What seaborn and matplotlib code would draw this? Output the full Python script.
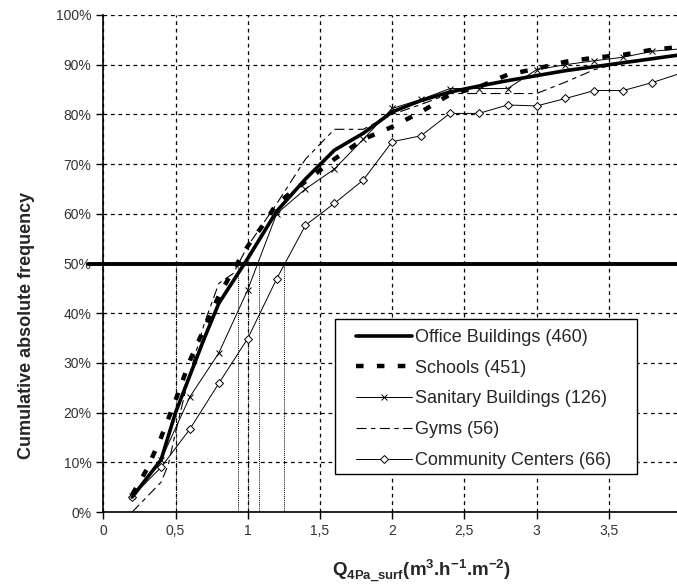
import numpy as np
import pandas as pd
import seaborn as sns
import matplotlib
matplotlib.use('Agg')
import matplotlib.pyplot as plt
from matplotlib.ticker import FixedLocator
from matplotlib.patches import Rectangle

sns.set_style('white')
plt.rcParams['font.family'] = ['Liberation Sans', 'DejaVu Sans']
plt.rcParams['mathtext.fontset'] = 'custom'
plt.rcParams['mathtext.rm'] = 'Liberation Sans'
plt.rcParams['mathtext.bf'] = 'Liberation Sans:bold'

# Data, y in %

x_office = [0.2, 0.4, 0.5, 0.6, 0.7, 0.8, 0.9, 1.0, 1.2, 1.4, 1.6, 1.8, 2.0, 2.2, 2.4, 2.6, 2.8, 3.0, 3.2, 3.4, 3.6, 3.8, 4.0]
office = [3, 10.5, 20, 27.5, 35, 42, 46.5, 51, 60.5, 67, 72.8, 76.2, 80.5, 82.8, 84.5, 85.7, 86.8, 87.8, 88.8, 89.6, 90.4, 91.2, 92.0]

x_schools = [0.2, 0.3, 0.4, 0.5, 0.6, 0.7, 0.8, 0.9, 1.0, 1.1, 1.2, 1.4, 1.6, 1.8, 2.0, 2.2, 2.4, 2.6, 2.8, 3.0, 3.2, 3.4, 3.6, 3.8, 4.0]
schools = [3.5, 8.5, 15, 22.5, 30.5, 37, 43.5, 48.7, 53.5, 57.5, 62, 66.5, 71, 75, 77.5, 80.5, 84, 85.5, 88, 89.2, 90.6, 91.4, 92, 93, 93.6]

x_step = [0.2, 0.4, 0.6, 0.8, 1.0, 1.2, 1.4, 1.6, 1.8, 2.0, 2.2, 2.4, 2.6, 2.8, 3.0, 3.2, 3.4, 3.6, 3.8, 4.0]
sanitary = [3.2, 10.5, 23.2, 32.0, 44.7, 60.0, 65.0, 69.0, 75.0, 81.2, 83.0, 85.2, 85.2, 85.2, 89.0, 90.0, 90.8, 91.5, 92.7, 93.2]
community = [3.1, 9.0, 16.7, 25.9, 34.9, 46.9, 57.7, 62.1, 66.8, 74.5, 75.7, 80.2, 80.2, 81.9, 81.7, 83.2, 84.8, 84.8, 86.4, 88.3]

x_gyms = [0.2, 0.4, 0.45, 0.5, 0.6, 0.7, 0.8, 0.9, 1.0, 1.2, 1.4, 1.6, 1.8, 2.0, 2.2, 2.4, 2.6, 2.8, 3.0, 3.2, 3.4, 3.6, 3.8, 4.0]
gyms = [0, 6, 9.5, 16, 28, 38, 46, 48, 53.5, 62, 71, 77, 77, 80, 82, 84.2, 84.2, 84.2, 84.2, 86.5, 89, 90.5, 91.3, 92.2]

medians = [0.5, 0.93, 1.0, 1.08, 1.25]

x_ticks = [0, 0.5, 1, 1.5, 2, 2.5, 3, 3.5, 4]
x_ticklabels = ['0', '0,5', '1', '1,5', '2', '2,5', '3', '3,5', '4']
y_ticks = [0, 10, 20, 30, 40, 50, 60, 70, 80, 90, 100]
y_ticklabels = ['%d%%' % v for v in y_ticks]

# Plot

W, H = 677, 585
x0, x1, y_top, y_bot = 103.3, 681, 15, 512
aw, ah = x1 - x0, y_bot - y_top

fig = plt.figure(figsize=(W / 100, H / 100), dpi=100)
ax = fig.add_axes([x0 / W, 1 - y_bot / H, aw / W, ah / H])

ax.grid(True, color='black', linestyle=(0, (3, 3)), linewidth=0.9)
ax.set_axisbelow(True)

for m in medians:
    ax.plot([m, m], [0, 50], color='black', linestyle=(0, (1, 1)), linewidth=0.7, zorder=2)

ax.plot([-0.106, 4.2], [50, 50], color='black', linewidth=2.8, clip_on=False, zorder=3)

sns.lineplot(x=x_office, y=office, ax=ax, color='black', linewidth=2.6,
             label='Office Buildings (460)', zorder=5)
sns.lineplot(x=x_schools, y=schools, ax=ax, color='black', linewidth=3.2,
             label='Schools (451)', zorder=5).lines[-1].set_dashes((1.7, 3.0))
sns.lineplot(x=x_step, y=sanitary, ax=ax, color='black', linewidth=0.7, marker='x',
             markersize=4, markeredgewidth=0.7, markeredgecolor='black',
             label='Sanitary Buildings (126)', zorder=4)
sns.lineplot(x=x_gyms, y=gyms, ax=ax, color='black', linewidth=0.8,
             label='Gyms (56)', zorder=4).lines[-1].set_dashes((9, 4, 4, 4))
sns.lineplot(x=x_step, y=community, ax=ax, color='black', linewidth=0.7, marker='D',
             markersize=4, markerfacecolor='white', markeredgecolor='black',
             markeredgewidth=0.7, label='Community Centers (66)', zorder=4)

ax.set_xlim(0, 4)
ax.set_ylim(0, 100)
ax.xaxis.set_major_locator(FixedLocator(x_ticks))
ax.set_xticklabels(x_ticklabels)
ax.yaxis.set_major_locator(FixedLocator(y_ticks))
ax.set_yticklabels(y_ticklabels)
ax.tick_params(axis='both', direction='out', length=5, width=1, color='black',
               labelsize=10, labelcolor='#333333', left=True, bottom=True)
for s in ['top', 'right']:
    ax.spines[s].set_visible(False)
for s in ['left', 'bottom']:
    ax.spines[s].set_color('black')
    ax.spines[s].set_linewidth(1.2)

ax.set_ylabel('Cumulative absolute frequency', fontsize=13, fontweight='bold')
ax.yaxis.set_label_coords((35 - x0) / aw, (y_bot - 325) / ah)
ax.set_xlabel(r'Q$_{\mathbf{4Pa\_surf}}$(m$^{\mathbf{3}}$.h$^{\mathbf{-1}}$.m$^{\mathbf{-2}}$)',
              fontsize=13.5, fontweight='bold')
ax.xaxis.set_label_coords((421 - x0) / aw, (y_bot - 558) / ah)

# legend: frame drawn as rectangle, entries inside
box = Rectangle(((335 - x0) / aw, (y_bot - 474) / ah), (637 - 335) / aw, (474 - 319) / ah,
                transform=ax.transAxes, facecolor='white', edgecolor='black',
                linewidth=1.0, zorder=6, clip_on=False)
ax.add_patch(box)
leg = ax.legend(loc='upper left', bbox_to_anchor=((356 - x0) / aw, (y_bot - 329) / ah),
                fontsize=13, frameon=False, handlelength=3.1, handletextpad=0.15,
                labelspacing=0.76, borderaxespad=0, borderpad=0)
leg.set_zorder(7)

plt.savefig('out.png', dpi=100)
